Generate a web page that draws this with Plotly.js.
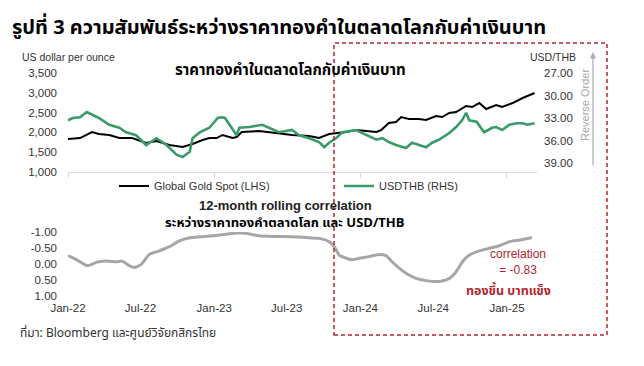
<!DOCTYPE html>
<html>
<head>
<meta charset="utf-8">
<script src="https://cdn.plot.ly/plotly-3.0.1.min.js"></script>
<style>html,body{margin:0;padding:0;background:#fff;}#chart{width:644px;height:366px;}</style>
</head>
<body>
<div id="chart"></div>
<script>
// ---- Data ----
const goldDates = ['2022-01-01','2022-01-31','2022-03-02','2022-03-19','2022-04-14','2022-05-09','2022-06-10','2022-07-15','2022-08-10','2022-09-11','2022-10-14','2022-11-08','2022-12-03','2022-12-20','2023-01-07','2023-01-22','2023-02-16','2023-02-26','2023-03-11','2023-04-23','2023-06-04','2023-07-14','2023-08-26','2023-09-20','2023-10-15','2023-11-27','2023-12-21','2024-01-23','2024-02-10','2024-02-22','2024-03-05','2024-03-12','2024-03-30','2024-04-12','2024-05-01','2024-05-26','2024-06-13','2024-07-08','2024-07-23','2024-08-10','2024-08-27','2024-09-21','2024-10-06','2024-10-24','2024-11-10','2024-12-05','2024-12-20','2025-01-15','2025-02-09','2025-02-26','2025-03-11'];
const goldSpot = [1833,1858,2010,1960,1935,1858,1858,1732,1783,1682,1631,1707,1808,1858,1858,1935,1858,1883,2010,2035,1985,1935,1909,1858,1960,2010,2060,2035,2010,2060,2160,2237,2263,2389,2338,2338,2313,2414,2389,2490,2515,2667,2641,2742,2591,2692,2641,2742,2869,2944,2995];

const thbDates = ['2022-01-01','2022-01-13','2022-01-31','2022-02-17','2022-03-19','2022-04-14','2022-05-09','2022-05-26','2022-06-20','2022-07-15','2022-08-10','2022-09-04','2022-09-29','2022-10-14','2022-11-01','2022-11-08','2022-11-26','2022-12-20','2023-01-10','2023-01-19','2023-01-28','2023-02-13','2023-02-26','2023-03-05','2023-03-30','2023-05-01','2023-05-18','2023-06-12','2023-07-14','2023-08-01','2023-08-26','2023-09-20','2023-10-03','2023-10-15','2023-11-01','2023-11-17','2023-12-21','2024-01-05','2024-01-23','2024-02-10','2024-02-25','2024-03-12','2024-03-30','2024-04-24','2024-05-09','2024-05-26','2024-06-13','2024-06-28','2024-07-15','2024-08-10','2024-08-27','2024-09-11','2024-09-21','2024-09-29','2024-10-17','2024-11-05','2024-11-25','2024-12-05','2024-12-20','2025-01-07','2025-01-25','2025-02-09','2025-02-21','2025-03-11'];
const usdThb = [33.3,33.0,32.9,32.2,33.0,33.9,34.3,34.9,35.3,36.6,35.7,36.6,37.9,38.2,37.5,35.7,34.9,34.3,33.0,32.9,33.0,34.3,35.3,34.3,34.2,33.9,34.3,34.9,34.6,35.3,35.7,36.2,36.9,36.3,35.7,34.9,34.6,35.0,35.5,35.9,35.7,36.2,36.6,37.0,36.3,36.6,36.9,36.3,35.9,35.0,34.2,33.3,32.3,33.3,33.5,34.9,34.3,34.2,34.6,33.9,33.7,33.7,33.9,33.7];

const corrDates = ['2022-01-01','2022-01-23','2022-02-17','2022-03-02','2022-03-12','2022-04-06','2022-05-01','2022-05-16','2022-06-03','2022-06-15','2022-07-03','2022-07-23','2022-08-17','2022-09-11','2022-10-06','2022-11-01','2022-11-25','2022-12-28','2023-02-01','2023-02-26','2023-03-21','2023-04-23','2023-06-04','2023-07-14','2023-08-26','2023-09-20','2023-10-15','2023-10-28','2023-11-09','2023-11-27','2023-12-11','2023-12-29','2024-01-23','2024-02-17','2024-03-05','2024-03-20','2024-04-07','2024-04-24','2024-05-19','2024-06-13','2024-07-08','2024-07-23','2024-08-10','2024-08-27','2024-09-12','2024-09-29','2024-10-24','2024-11-18','2024-12-13','2025-01-08','2025-02-02','2025-03-04'];
const rollingCorr = [-0.26,-0.13,0.05,0.01,-0.05,-0.09,-0.07,-0.09,0.05,0.11,0.01,-0.30,-0.41,-0.54,-0.72,-0.82,-0.85,-0.88,-0.93,-0.97,-0.96,-0.88,-0.86,-0.85,-0.82,-0.80,-0.70,-0.54,-0.28,-0.18,-0.13,-0.18,-0.23,-0.30,-0.26,-0.07,0.13,0.29,0.45,0.52,0.55,0.53,0.45,0.24,-0.07,-0.28,-0.41,-0.49,-0.57,-0.70,-0.75,-0.83];

const goldTicks = [1000,1500,2000,2500,3000,3500];
const thbTicks = [27,30,33,36,39];
const thbTickText = ['27.00','30.00','33.00','36.00','39.00'];
const corrTicks = [-1,-0.5,0,0.5,1];
const corrTickText = ['-1.00','-0.50','0.00','0.50','1.00'];

// ---- Helpers for pixel -> paper ----
const W = 644, H = 366;
const px = v => v / W;
const py = v => 1 - v / H;

const LAT = 'Liberation Sans, Arial, sans-serif';
const THAI = 'Tahoma, "Noto Sans Thai", "Noto Sans", "Liberation Sans", sans-serif';
const RED = '#b3262c';
const xRange = ['2022-01-01', '2025-03-17'];
const xDom = [px(68), px(537)];

const traces = [
  {x: goldDates, y: goldSpot, type: 'scatter', mode: 'lines', name: 'Global Gold Spot (LHS)',
   line: {color: '#000000', width: 2}, xaxis: 'x', yaxis: 'y'},
  {x: thbDates, y: usdThb, type: 'scatter', mode: 'lines', name: 'USDTHB (RHS)',
   line: {color: '#3a9a68', width: 2.6}, xaxis: 'x', yaxis: 'y2'},
  {x: corrDates, y: rollingCorr, type: 'scatter', mode: 'lines', name: '12-month rolling correlation',
   line: {color: '#a6a6a6', width: 3, shape: 'spline', smoothing: 0.6}, xaxis: 'x2', yaxis: 'y3', showlegend: false}
];

const tickFont = {family: LAT, size: 11.5, color: '#333333'};

const layout = {
  width: W, height: H, autosize: false,
  margin: {l: 0, r: 0, t: 0, b: 0},
  paper_bgcolor: '#ffffff', plot_bgcolor: 'rgba(0,0,0,0)',
  title: {text: '<b>รูปที่ 3 ความสัมพันธ์ระหว่างราคาทองคำในตลาดโลกกับค่าเงินบาท</b>',
          x: px(12), xanchor: 'left', xref: 'paper', y: py(27), yanchor: 'middle', yref: 'paper',
          font: {family: THAI, size: 20, color: '#000000'}},
  showlegend: true,
  legend: {orientation: 'h', x: px(114), xanchor: 'left', y: py(186), yanchor: 'middle',
           font: {family: LAT, size: 11, color: '#333333'}, entrywidth: 180, entrywidthmode: 'pixels',
           bgcolor: 'rgba(0,0,0,0)', itemwidth: 30},
  xaxis: {type: 'date', domain: xDom, range: xRange, anchor: 'y', showline: true, linecolor: '#d9d9d9',
          linewidth: 1, ticks: 'outside', ticklen: 5, tickcolor: '#d9d9d9', dtick: 'M12', tick0: '2022-01-01',
          showticklabels: false, showgrid: false, zeroline: false},
  yaxis: {domain: [py(172), py(73)], range: [1000, 3500], tickvals: goldTicks, tickformat: ',',
          showgrid: false, zeroline: false, showline: false, ticks: '', ticklabelstandoff: 10,
          tickfont: tickFont, anchor: 'x'},
  yaxis2: {overlaying: 'y', side: 'right', range: [40.2, 27], tickvals: thbTicks, ticktext: thbTickText,
           showgrid: false, zeroline: false, showline: false, ticks: '', ticklabelstandoff: 6,
           tickfont: tickFont, anchor: 'x'},
  xaxis2: {type: 'date', domain: xDom, range: xRange, anchor: 'y3', showline: false, ticks: 'outside',
           ticklen: 1, tickcolor: 'rgba(0,0,0,0)', dtick: 'M6', tick0: '2022-01-01', tickformat: '%b-%y',
           showgrid: false, zeroline: false, tickfont: tickFont},
  yaxis3: {domain: [py(296), py(232)], range: [1, -1], tickvals: corrTicks, ticktext: corrTickText,
           showgrid: false, zeroline: false, showline: false, ticks: '', ticklabelstandoff: 10,
           tickfont: tickFont, anchor: 'x2'},
  shapes: [
    {type: 'rect', xref: 'paper', yref: 'paper', x0: px(334), x1: px(607), y0: py(335), y1: py(43),
     line: {color: RED, width: 1.5, dash: '4px,3px'}, fillcolor: 'rgba(0,0,0,0)', layer: 'above'}
  ],
  annotations: [
    {text: 'US dollar per ounce', xref: 'paper', yref: 'paper', x: px(20), y: py(57), xanchor: 'left', yanchor: 'middle',
     showarrow: false, font: {family: LAT, size: 10.5, color: '#333333'}},
    {text: 'USD/THB', xref: 'paper', yref: 'paper', x: px(578), y: py(57), xanchor: 'right', yanchor: 'middle',
     showarrow: false, font: {family: LAT, size: 10.5, color: '#333333'}},
    {text: 'Reverse Order', xref: 'paper', yref: 'paper', x: px(585), y: py(105), xanchor: 'center', yanchor: 'middle',
     textangle: -90, showarrow: false, font: {family: LAT, size: 11, color: '#a6a6a6'}},
    {text: '', xref: 'paper', yref: 'paper', x: px(593), y: py(52), ax: 0, ay: 115, axref: 'pixel', ayref: 'pixel',
     showarrow: true, arrowhead: 2, arrowsize: 1, arrowwidth: 1.3, arrowcolor: '#b0b0b0'},
    {text: '<b>ราคาทองคำในตลาดโลกกับค่าเงินบาท</b>', xref: 'paper', yref: 'paper', x: px(290), y: py(70),
     xanchor: 'center', yanchor: 'middle', showarrow: false, font: {family: THAI, size: 15, color: '#000000'}},
    {text: '<b>12-month rolling correlation</b>', xref: 'paper', yref: 'paper', x: px(285), y: py(206),
     xanchor: 'center', yanchor: 'middle', showarrow: false, font: {family: LAT, size: 13, color: '#222222'}},
    {text: '<b>ระหว่างราคาทองคำตลาดโลก และ USD/THB</b>', xref: 'paper', yref: 'paper', x: px(285), y: py(223),
     xanchor: 'center', yanchor: 'middle', showarrow: false, font: {family: THAI, size: 13, color: '#000000'}},
    {text: 'correlation<br>= -0.83', xref: 'paper', yref: 'paper', x: px(518), y: py(262),
     xanchor: 'center', yanchor: 'middle', showarrow: false, align: 'center',
     font: {family: LAT, size: 12, color: RED}},
    {text: '<b>ทองขึ้น บาทแข็ง</b>', xref: 'paper', yref: 'paper', x: px(508), y: py(291),
     xanchor: 'center', yanchor: 'middle', showarrow: false, font: {family: THAI, size: 12.5, color: RED}},
    {text: 'ที่มา: Bloomberg และศูนย์วิจัยกสิกรไทย', xref: 'paper', yref: 'paper', x: px(18), y: py(333),
     xanchor: 'left', yanchor: 'middle', showarrow: false, font: {family: THAI, size: 12, color: '#333333'}}
  ]
};

Plotly.newPlot('chart', traces, layout, {displayModeBar: false, staticPlot: true});
</script>
</body>
</html>
